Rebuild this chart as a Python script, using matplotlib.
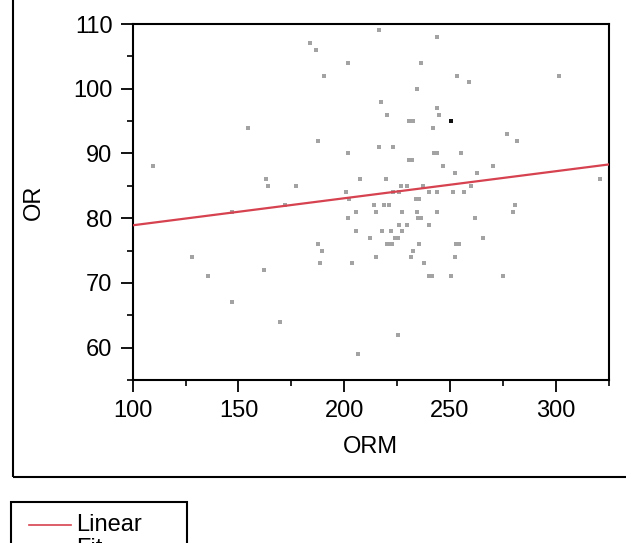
import matplotlib
matplotlib.use("Agg")
import matplotlib.pyplot as plt
from matplotlib.lines import Line2D
from matplotlib.patches import Rectangle
from matplotlib.ticker import MultipleLocator

plt.rcParams['font.family'] = ['Liberation Sans', 'DejaVu Sans']

orm = [109.5, 154.5, 163.2, 164.1, 216.5, 243.7, 183.8, 186.6, 201.6, 236.4,
       190.4, 234.5, 217.5, 243.7, 220.4, 244.6, 230.8, 232.6, 241.9, 187.6,
       216.5, 223.0, 201.6, 242.5, 244.0, 230.5, 232.0, 246.8, 207.2, 219.6,
       177.2, 227.0, 229.8, 237.4, 200.7, 223.2, 226.0, 240.2, 243.7, 202.2,
       233.8, 235.4, 251.3, 253.4, 259.1, 301.3, 276.9, 281.6, 255.3, 270.2,
       252.5, 262.9, 260.1, 256.5, 320.8, 146.9, 172.2, 128.1, 162.0, 135.7,
       146.9, 169.6, 213.9, 218.6, 221.3, 205.4, 214.8, 227.1, 234.5, 243.9,
       201.6, 234.8, 236.4, 226.0, 229.8, 240.2, 205.4, 217.7, 222.3, 227.1,
       212.0, 224.0, 225.4, 187.6, 220.4, 221.4, 222.4, 235.5, 189.5, 232.6,
       214.8, 231.7, 188.5, 203.5, 237.7, 240.0, 241.4, 250.3, 225.2, 206.3,
       280.7, 279.8, 261.8, 265.6, 252.6, 254.2, 252.5, 275.0]
or_vals = [88, 94, 86, 85, 109, 108, 107, 106, 104, 104,
           102, 100, 98, 97, 96, 96, 95, 95, 94, 92,
           91, 91, 90, 90, 90, 89, 89, 88, 86, 86,
           85, 85, 85, 85, 84, 84, 84, 84, 84, 83,
           83, 83, 84, 102, 101, 102, 93, 92, 90, 88,
           87, 87, 85, 84, 86, 81, 82, 74, 72, 71,
           67, 64, 82, 82, 82, 81, 81, 81, 81, 81,
           80, 80, 80, 79, 79, 79, 78, 78, 78, 78,
           77, 77, 77, 76, 76, 76, 76, 76, 75, 75,
           74, 74, 73, 73, 73, 71, 71, 71, 62, 59,
           82, 81, 80, 77, 76, 76, 74, 71]

highlight_orm = [250.3]
highlight_or = [95]

fit_orm = [100, 325]
fit_or = [78.9, 88.3]

x_ticks = [100, 150, 200, 250, 300]
y_ticks = [60, 70, 80, 90, 100, 110]

red = '#d6424f'

fig = plt.figure(figsize=(6.26, 5.43), dpi=100)
ax = fig.add_axes([0.2120, 0.3002, 0.7604, 0.6556])

ax.plot(orm, or_vals, linestyle='none', marker='s', markersize=2.8,
        markerfacecolor='#a3a3a3', markeredgewidth=0, zorder=2)
ax.plot(highlight_orm, highlight_or, linestyle='none', marker='s', markersize=2.8,
        markerfacecolor='#111111', markeredgewidth=0, zorder=3)
ax.plot(fit_orm, fit_or, color=red, linewidth=1.6, zorder=4)

ax.set_xlim(100, 325)
ax.set_ylim(55, 110)
ax.set_xticks(x_ticks)
ax.set_yticks(y_ticks)
ax.xaxis.set_minor_locator(MultipleLocator(25))
ax.yaxis.set_minor_locator(MultipleLocator(5))
ax.tick_params(which='major', direction='out', length=8.6, width=1.3, pad=6,
               labelsize=17, colors='black')
ax.tick_params(which='minor', direction='out', length=4.3, width=1.2)
for s in ax.spines.values():
    s.set_linewidth(1.5)
    s.set_color('black')

ax.set_xlabel('ORM', fontsize=17, labelpad=10)
ax.set_ylabel('OR', fontsize=17, labelpad=20)

# outer frame (partially cropped)
fig.patches.append(Rectangle((13/626, 1-477/543), 1.2, 1.0, transform=fig.transFigure,
                             fill=False, edgecolor='black', linewidth=1.5, clip_on=False))
# legend box (cropped at bottom)
fig.patches.append(Rectangle((11/626, -0.2), (187-11)/626, 0.2 + (1-502/543),
                             transform=fig.transFigure, fill=False,
                             edgecolor='black', linewidth=1.5, clip_on=False))
fig.lines.append(Line2D([29/626, 71/626], [1-525/543, 1-525/543],
                        transform=fig.transFigure, color=red, linewidth=1.2))
fig.text(76/626, 1-525/543, 'Linear', fontsize=17, va='center', ha='left')
fig.text(76/626, 1-549/543, 'Fit', fontsize=17, va='center', ha='left')

fig.savefig('out.png', dpi=100)
